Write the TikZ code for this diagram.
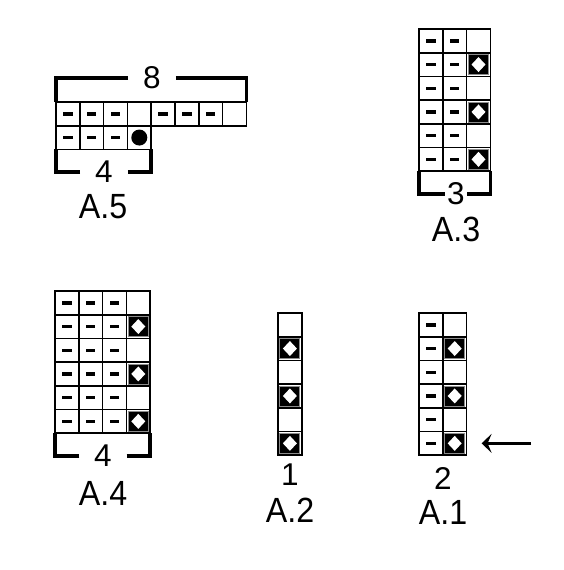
\documentclass[tikz,border=0pt]{standalone}
\usepackage{fontspec}
\setmainfont{Liberation Sans}
\usetikzlibrary{arrows.meta}
\begin{document}
\begin{tikzpicture}[x=1pt, y=-1pt,
cell/.style={draw=black, line width=1.7pt, fill=white, minimum width=23.8pt, minimum height=23.7pt, inner sep=0pt, outer sep=0pt},
sym-k/.style={cell},
sym-p/.style={cell, path picture={\fill[black] ([shift={(-4.75pt,-1.75pt)}]path picture bounding box.center) rectangle ([shift={(4.75pt,1.75pt)}]path picture bounding box.center);}},
sym-x/.style={cell, path picture={
  \filldraw[fill=black, draw=black!45, line width=0.9pt] ([shift={(-10pt,-10pt)}]path picture bounding box.center) rectangle ([shift={(10pt,10pt)}]path picture bounding box.center);
  \fill[white] ([yshift=7.5pt]path picture bounding box.center) -- ([xshift=7pt]path picture bounding box.center) -- ([yshift=-7.5pt]path picture bounding box.center) -- ([xshift=-7pt]path picture bounding box.center) -- cycle;}},
sym-o/.style={cell, path picture={\fill[black] (path picture bounding box.center) circle[radius=8pt];}},
widthnum/.style={font=\fontsize{31.5}{31.5}\selectfont, inner ysep=0pt, outer sep=0pt},
chartname/.style={font=\fontsize{35}{35}\selectfont, inner sep=0pt, xscale=0.92},
brace/.style={line width=3.5pt, line join=miter},
pointer/.style={line width=2.6pt, -{Stealth[length=10pt, width=19pt, inset=4pt]}}]
\useasboundingbox (0,0) rectangle (563,570);

% A.5
\foreach \rowlist [count=\r] in {{p,p,p,k,p,p,p,k},{p,p,p,o}}
  \foreach \s [count=\c] in \rowlist
    \node[sym-\s] (a5-\r-\c) at ({56+(\c-0.5)*23.8},{102+(\r-0.5)*23.7}) {};
\node[widthnum, inner xsep=15pt] (a5top) at (152,78) {8};
\draw[brace] (a5top.west) -| (a5-1-1.north west);
\draw[brace] (a5top.east) -| (a5-1-8.north east);
\node[widthnum, inner xsep=15pt] (a5bot) at (104,172) {4};
\draw[brace] (a5bot.west) -| (a5-2-1.south west);
\draw[brace] (a5bot.east) -| (a5-2-4.south east);
\node[chartname] (a5name) at (103,207) {A.5};

% A.3
\foreach \rowlist [count=\r] in {{p,p,k},{p,p,x},{p,p,k},{p,p,x},{p,p,k},{p,p,x}}
  \foreach \s [count=\c] in \rowlist
    \node[sym-\s] (a3-\r-\c) at ({419+(\c-0.5)*23.8},{29+(\r-0.5)*23.7}) {};
\node[widthnum, inner xsep=2.5pt] (a3bot) at (456,194) {3};
\draw[brace] (a3bot.west) -| (a3-6-1.south west);
\draw[brace] (a3bot.east) -| (a3-6-3.south east);
\node[chartname] (a3name) at (456,229) {A.3};

% A.4
\foreach \rowlist [count=\r] in {{p,p,p,k},{p,p,p,x},{p,p,p,k},{p,p,p,x},{p,p,p,k},{p,p,p,x}}
  \foreach \s [count=\c] in \rowlist
    \node[sym-\s] (a4-\r-\c) at ({55+(\c-0.5)*23.8},{291+(\r-0.5)*23.7}) {};
\node[widthnum, inner xsep=14.8pt] (a4bot) at (103,456) {4};
\draw[brace] (a4bot.west) -| (a4-6-1.south west);
\draw[brace] (a4bot.east) -| (a4-6-4.south east);
\node[chartname] (a4name) at (103,493) {A.4};

% A.2
\foreach \s [count=\r] in {k,x,k,x,k,x}
  \node[sym-\s] (a2-\r-1) at ({278+0.5*23.8},{313+(\r-0.5)*23.7}) {};
\node[widthnum] (a2bot) at (290,475) {1};
\node[chartname] (a2name) at (290,510) {A.2};

% A.1
\foreach \rowlist [count=\r] in {{p,k},{p,x},{p,k},{p,x},{p,k},{p,x}}
  \foreach \s [count=\c] in \rowlist
    \node[sym-\s] (a1-\r-\c) at ({419+(\c-0.5)*23.8},{313+(\r-0.5)*23.7}) {};
\node[widthnum] (a1bot) at (443,478) {2};
\node[chartname] (a1name) at (443,512) {A.1};

\coordinate (arrowtail) at (531,0);
\draw[pointer, shorten >=15pt] (arrowtail |- a1-6-2.east) -- (a1-6-2.east);
\end{tikzpicture}
\end{document}
